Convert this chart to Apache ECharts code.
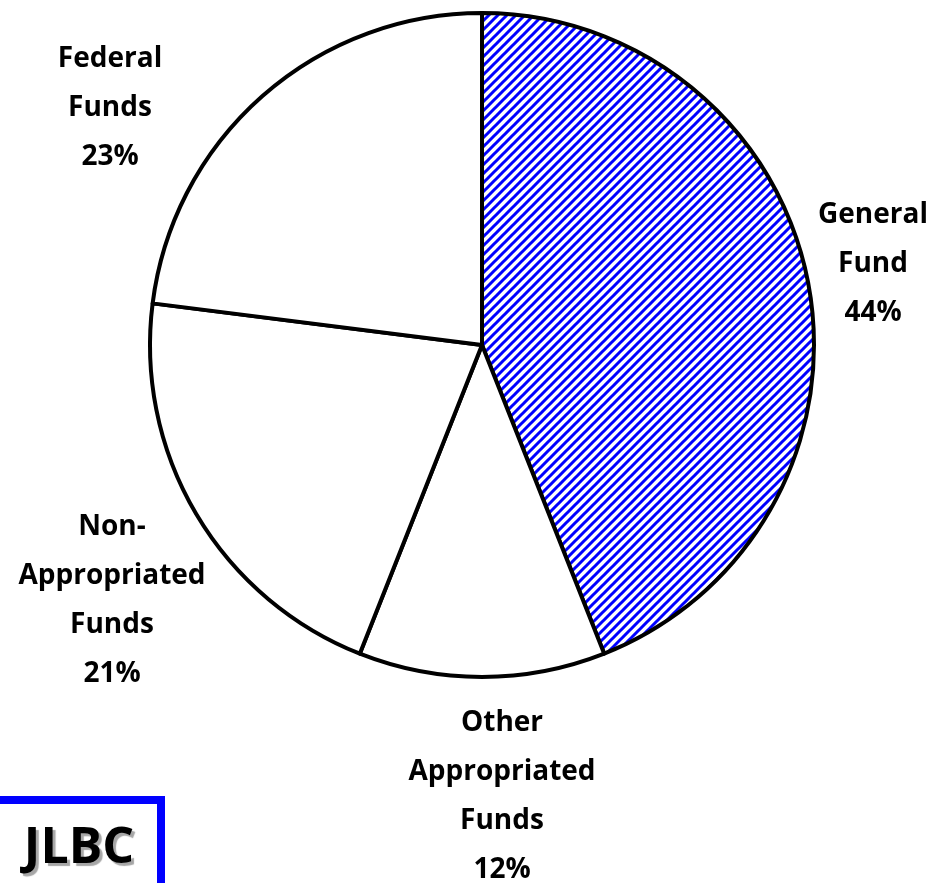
<!DOCTYPE html>
<html>
<head>
<meta charset="utf-8">
<script src="https://cdn.jsdelivr.net/npm/echarts@6/dist/echarts.min.js"></script>
<style>
  html, body { margin: 0; padding: 0; background: #fff; }
  #chart { width: 935px; height: 883px; }
</style>
</head>
<body>
<div id="chart"></div>
<script>
// Fund sources, clockwise from 12 o'clock
const categories = [
  'General\nFund',
  'Other\nAppropriated\nFunds',
  'Non-\nAppropriated\nFunds',
  'Federal\nFunds'
];
const shares = [44, 12, 21, 23];

// Label anchor (centre of each text block) per slice
const labelAnchors = [
  [873, 264],
  [502, 797],
  [112, 601],
  [110, 108]
];

// Blue diagonal hatch used for the General Fund slice
function makeHatch() {
  const s = 9;
  const c = document.createElement('canvas');
  c.width = s; c.height = s;
  const g = c.getContext('2d');
  g.fillStyle = '#ffffff';
  g.fillRect(0, 0, s, s);
  g.strokeStyle = '#0000ff';
  g.lineWidth = 3;
  g.beginPath();
  // lines x + y = 0, s, 2s so the tile wraps seamlessly
  for (let k = 0; k <= 2; k++) {
    const d = k * s;
    g.moveTo(d + 3, -3); g.lineTo(-3, d + 3);
  }
  g.stroke();
  return c;
}
const hatch = makeHatch();

const data = categories.map((name, i) => ({
  name: name,
  value: shares[i],
  itemStyle: {
    color: i === 0 ? { image: hatch, repeat: 'repeat' } : '#ffffff'
  }
}));

const chart = echarts.init(document.getElementById('chart'), null, { renderer: 'canvas' });
chart.setOption({
  animation: false,
  backgroundColor: '#ffffff',
  series: [{
    type: 'pie',
    center: [482, 345],
    radius: 332,
    startAngle: 90,
    clockwise: true,
    silent: true,
    data: data,
    itemStyle: { borderColor: '#000000', borderWidth: 4 },
    label: {
      show: true,
      position: 'outside',
      formatter: '{b}\n{d}%',
      fontFamily: 'Open Sans',
      fontWeight: 'bold',
      fontSize: 28,
      lineHeight: 49,
      color: '#000000',
      align: 'center',
      overflow: 'none'
    },
    labelLine: { show: false },
    labelLayout: function (p) {
      const a = labelAnchors[p.dataIndex];
      return { x: a[0], y: a[1], align: 'center', verticalAlign: 'middle' };
    },
    emphasis: { disabled: true }
  }],
  graphic: [
    {
      type: 'rect',
      shape: { x: -10, y: 800, width: 171, height: 100 },
      style: { fill: '#ffffff', stroke: '#0000ff', lineWidth: 8 }
    },
    {
      type: 'text',
      style: {
        text: 'JLBC',
        x: 79,
        y: 849,
        align: 'center',
        verticalAlign: 'middle',
        font: 'bold 50px "Open Sans"',
        fill: '#000000',
        textShadowColor: 'rgba(0,0,0,0.35)',
        textShadowOffsetX: 3,
        textShadowOffsetY: 3,
        textShadowBlur: 1
      }
    }
  ]
});
</script>
</body>
</html>
